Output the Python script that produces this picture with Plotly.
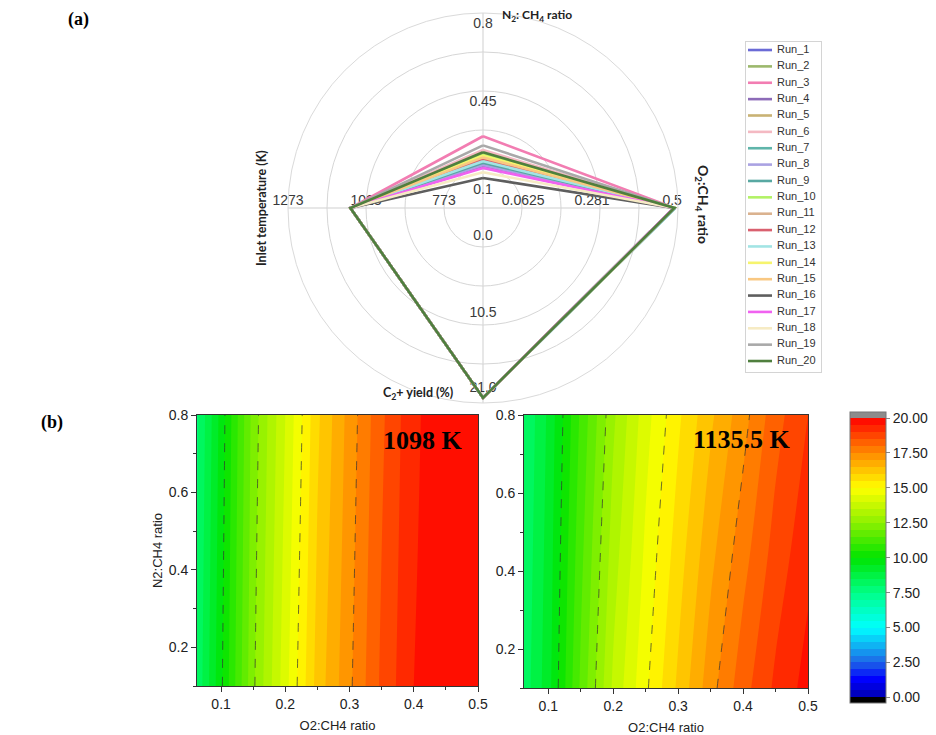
import plotly.graph_objects as go

W, H = 936, 735
# the page body adds an 8px offset; positions below are given in picture pixels
OX, OY = 8, 8

# ---------------- (a) radar data ----------------
runs = [f"Run_{i}" for i in range(1, 21)]
run_colors = ["#6b6bd6", "#9cb86c", "#f27db2", "#8d6bb8", "#c9b274", "#f4b9c2",
              "#5fb5aa", "#aaa2e2", "#58a8a2", "#b2f266", "#dab28f", "#d9606f",
              "#a2e4e4", "#f6f46e", "#f9c882", "#5e5e5e", "#f062f0", "#f6ebc4",
              "#a9a9a9", "#4f7f3e"]
n2_ratio = [0.125, 0.170, 0.247, 0.112, 0.140, 0.185, 0.130, 0.118, 0.128, 0.165,
            0.150, 0.145, 0.135, 0.160, 0.152, 0.060, 0.105, 0.085, 0.206, 0.175]
o2_ratio = [0.49, 0.49, 0.49, 0.488, 0.49, 0.49, 0.492, 0.49, 0.492, 0.49,
            0.49, 0.488, 0.492, 0.49, 0.49, 0.488, 0.488, 0.49, 0.49, 0.49]
c2_yield = [20.3] * 20
inlet_T = [1073] * 20

n2_ticks = [0.1, 0.45, 0.8]
o2_ticks = [0.0625, 0.281, 0.5]
yield_ticks = [0.0, 10.5, 21.0]
temp_ticks = [773, 1023, 1273]

n2_tick_text = ["0.1", "0.45", "0.8"]
o2_tick_text = ["0.0625", "0.281", "0.5"]
yield_tick_text = ["0.0", "10.5", "21.0"]
temp_tick_text = ["773", "1023", "1273"]

# ---------------- (b) contour data ----------------
o2_grid = [0.0625, 0.1, 0.15, 0.2, 0.25, 0.3, 0.35, 0.4, 0.45, 0.5]
n2_grid = [0.1, 0.45, 0.8]
yield_1098 = [
    [8.1, 9.9, 12.4, 14.3, 16.2, 17.4, 18.6, 19.5, 19.85, 19.9],
    [8.0, 9.8, 12.3, 14.15, 16.05, 17.3, 18.5, 19.45, 19.85, 19.9],
    [7.9, 9.7, 12.2, 14.0, 15.9, 17.2, 18.4, 19.4, 19.85, 19.9],
]
yield_1135 = [
    [8.2, 9.3, 11.6, 13.6, 14.9, 16.1, 17.3, 18.3, 19.1, 19.7],
    [8.1, 9.2, 11.35, 13.25, 14.6, 15.75, 16.85, 17.8, 18.7, 19.35],
    [8.0, 9.1, 11.1, 12.9, 14.3, 15.4, 16.4, 17.3, 18.3, 19.0],
]
cbar_ticks = [0, 2.5, 5, 7.5, 10, 12.5, 15, 17.5, 20]


def ring(v, ticks):
    # ring 1 = axis minimum, ring 5 = axis maximum
    return 1 + 4 * (v - ticks[0]) / (ticks[-1] - ticks[0])


def fx(x):
    return (x - OX) / W


def fy(y):
    return 1 - (y - OY) / H


fig = go.Figure()

# radar tick labels (text drawn through the polar scale)
label_font = dict(family="Liberation Sans, Arial", size=14, color="#3a3a3a")
tick_sets = [
    (90, n2_ticks, n2_tick_text, [-0.54, -0.3, -0.3], "middle center"),
    (0, o2_ticks, o2_tick_text, [0.03, -0.2, -0.15], "top center"),
    (270, yield_ticks, yield_tick_text, [-0.26, -0.3, -0.38], "middle center"),
    (180, temp_ticks, temp_tick_text, [0.0, 0.0, 0.0], "top center"),
]
for ang, ticks, texts, offs, pos in tick_sets:
    fig.add_trace(go.Scatterpolar(
        r=[ring(t, ticks) + o for t, o in zip(ticks, offs)],
        theta=[ang] * len(ticks), text=texts, mode="text",
        textposition=pos, textfont=label_font, showlegend=False,
        hoverinfo="skip", subplot="polar"))

for i, name in enumerate(runs):
    r = [ring(n2_ratio[i], n2_ticks), ring(o2_ratio[i], o2_ticks),
         ring(c2_yield[i], yield_ticks), ring(inlet_T[i], temp_ticks),
         ring(n2_ratio[i], n2_ticks)]
    fig.add_trace(go.Scatterpolar(
        r=r, theta=[90, 0, 270, 180, 90], mode="lines", name=name,
        line=dict(color=run_colors[i], width=2.6), subplot="polar",
        showlegend=False))

# legend drawn as its own small subplot (one row per run)
for i, name in enumerate(runs):
    fig.add_trace(go.Scatter(
        x=[2, 26], y=[i + 1, i + 1], mode="lines", line=dict(color=run_colors[i], width=2.6),
        xaxis="x3", yaxis="y3", showlegend=False, hoverinfo="skip"))
fig.add_trace(go.Scatter(
    x=[31] * len(runs), y=list(range(1, len(runs) + 1)), text=runs, mode="text",
    textposition="middle right",
    textfont=dict(family="Liberation Sans, Arial", size=11, color="#333"),
    xaxis="x3", yaxis="y3", showlegend=False, hoverinfo="skip"))

# ---------------- contours ----------------
CMIN, CMAX = -0.4, 20.43
stops_z = [(-0.25, "#000000"), (-0.02, "#000000"), (0.0, "#0000b0"), (1.25, "#0000ff"),
           (2.5, "#1e66e6"), (5.0, "#00ffff"), (7.5, "#00ff88"), (10.0, "#00e400"),
           (12.5, "#8cf000"), (15.0, "#ffff00"), (17.5, "#ff8a00"), (20.0, "#ff0000"),
           (20.02, "#8c8c8c"), (20.25, "#8c8c8c")]
# contour fill colour map spans [start - size/2, end + size/2]
c_start, c_end, c_size = 0.0, 20.0, 0.5
lo, hi = c_start - c_size / 2, c_end + c_size / 2
jet = [[(z - lo) / (hi - lo), c] for z, c in stops_z]

for k, (z, xa, ya) in enumerate([(yield_1098, "x", "y"), (yield_1135, "x2", "y2")]):
    fig.add_trace(go.Contour(
        x=o2_grid, y=n2_grid, z=z, xaxis=xa, yaxis=ya,
        colorscale=jet, zmin=CMIN, zmax=CMAX, autocontour=False,
        contours=dict(start=c_start, end=c_end, size=c_size, coloring="fill", showlines=False),
        line=dict(width=0), showscale=(k == 0), showlegend=False, hoverinfo="skip",
        colorbar=dict(
            x=fx(850), xanchor="left", y=fy(412), yanchor="top",
            len=291, lenmode="pixels", thickness=36, thicknessmode="pixels",
            tickvals=cbar_ticks, tickformat=".2f", ticks="outside", ticklen=4,
            tickcolor="#888", outlinecolor="#777", outlinewidth=1, xpad=0, ypad=0,
            tickfont=dict(family="Liberation Sans, Arial", size=14, color="#222"),
        ),
    ))
    fig.add_trace(go.Contour(
        x=o2_grid, y=n2_grid, z=z, xaxis=xa, yaxis=ya,
        autocontour=False, contours=dict(start=10, end=17.5, size=2.5, coloring="none"),
        line=dict(color="rgba(50,50,50,0.7)", width=1, dash="dash"),
        showscale=False, showlegend=False, hoverinfo="skip",
    ))

axis_font = dict(family="Liberation Sans, Arial", size=14, color="#222")
title_font = dict(family="Liberation Sans, Arial", size=13, color="#222")
xcommon = dict(range=[0.0625, 0.5], tickvals=[0.1, 0.2, 0.3, 0.4, 0.5],
               ticks="outside", ticklen=5, tickcolor="#333", showline=True,
               linecolor="#333", mirror=True, showgrid=False, zeroline=False,
               automargin=False, tickfont=axis_font,
               minor=dict(dtick=0.05, tick0=0.05, ticks="outside", ticklen=3, tickcolor="#333"),
               title=dict(text="O2:CH4 ratio", font=title_font, standoff=10))
ycommon = dict(range=[0.1, 0.8], tickvals=[0.2, 0.4, 0.6, 0.8], ticks="outside",
               ticklen=5, tickcolor="#333", showline=True, linecolor="#333",
               mirror=True, showgrid=False, zeroline=False, tickfont=axis_font,
               automargin=False,
               minor=dict(dtick=0.1, tick0=0.1, ticks="outside", ticklen=3, tickcolor="#333"))

serif_bold = dict(family="Liberation Serif, Times New Roman", size=18, color="black")
cal = "Lato, Open Sans, sans-serif"

ann = []
for text, (x, y), font, angle in [
    ("<b>(a)</b>", (78, 20), serif_bold, 0),
    ("<b>(b)</b>", (52, 422), serif_bold, 0),
    ("<b>N<sub>2</sub>: CH<sub>4</sub> ratio</b>", (537, 16), dict(family=cal, size=12, color="#222"), 0),
    ("<b>O<sub>2</sub>:CH<sub>4</sub> ratio</b>", (702, 204), dict(family=cal, size=14, color="#222"), 90),
    ("<b>Inlet temperature (K)</b>", (261, 208), dict(family=cal, size=12.5, color="#222"), -90),
    ("<b>C<sub>2</sub>+ yield (%)</b>", (418, 393), dict(family=cal, size=12.5, color="#222"), 0),
    ("<b>1098 K</b>", (423, 440), dict(family="Liberation Serif, Times New Roman", size=26, color="black"), 0),
    ("<b>1135.5 K</b>", (742, 439), dict(family="Liberation Serif, Times New Roman", size=26, color="black"), 0),
]:
    ann.append(dict(text=text, x=fx(x), y=fy(y), xref="paper", yref="paper",
                    xanchor="center", yanchor="middle", showarrow=False,
                    font=font, textangle=angle))

fig.update_layout(
    width=W, height=H, margin=dict(l=0, r=0, t=0, b=0, pad=0, autoexpand=False),
    paper_bgcolor="white", plot_bgcolor="white", showlegend=False,
    polar=dict(
        domain=dict(x=[fx(288), fx(678)], y=[fy(403), fy(13)]),
        bgcolor="white",
        radialaxis=dict(range=[0, 5], tickvals=[1, 2, 3, 4, 5], showticklabels=False,
                        ticks="", showline=False, gridcolor="#d6d6d6", gridwidth=1),
        angularaxis=dict(tickvals=[0, 90, 180, 270], showticklabels=False, ticks="",
                         gridcolor="#cfcfcf", linecolor="#dadada", rotation=0,
                         direction="counterclockwise"),
    ),
    xaxis=dict(domain=[fx(197), fx(478)], anchor="y", **xcommon),
    yaxis=dict(domain=[fy(686), fy(415)], anchor="x",
               title=dict(text="N2:CH4 ratio", font=title_font, standoff=3), **ycommon),
    xaxis2=dict(domain=[fx(524), fx(808)], anchor="y2", **xcommon),
    yaxis2=dict(domain=[fy(688), fy(415)], anchor="x2", **ycommon),
    xaxis3=dict(domain=[fx(746), fx(821)], anchor="y3", range=[0, 75], visible=True,
                showticklabels=False, ticks="", showgrid=False, zeroline=False,
                showline=True, mirror=True, linecolor="#d4d4d4", automargin=False),
    yaxis3=dict(domain=[fy(372), fy(42)], anchor="x3", range=[20.67, 0.51],
                showticklabels=False, ticks="", showgrid=False, zeroline=False,
                showline=True, mirror=True, linecolor="#d4d4d4", automargin=False),
    annotations=ann,
)

fig.write_html("out.html")
